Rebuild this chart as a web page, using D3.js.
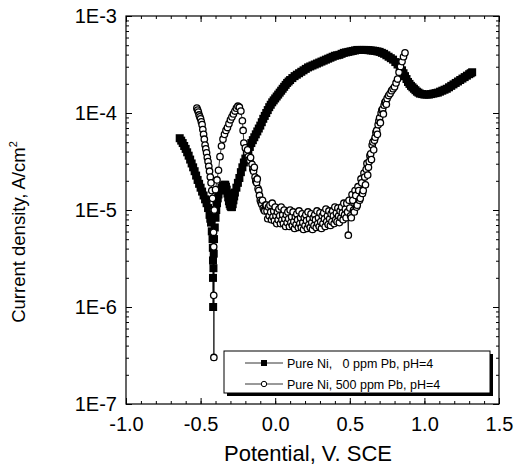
<!DOCTYPE html>
<html><head><meta charset="utf-8">
<script src="https://cdn.jsdelivr.net/npm/d3@7"></script>
<style>body{margin:0;background:#fff}svg{display:block}text{font-family:"Liberation Sans",Arial,sans-serif;fill:#000}</style>
</head><body><svg id="c" width="515" height="465"></svg>
<script>
// Series 1: Pure Ni, 0 ppm Pb, pH=4  (potential V vs SCE, log10 of current density A/cm2)
const potential0 = [-0.64,-0.63,-0.62,-0.61,-0.60,-0.59,-0.58,-0.57,-0.56,-0.55,-0.54,-0.53,-0.52,-0.51,-0.50,-0.49,-0.48,-0.47,-0.46,-0.45,-0.44,-0.435,-0.43,-0.425,-0.42,-0.418,-0.417,-0.417,-0.416,
 -0.414,-0.412,-0.41,-0.405,-0.40,-0.395,-0.39,-0.385,-0.38,-0.37,-0.36,-0.35,-0.34,-0.335,-0.33,-0.325,-0.32,-0.315,-0.31,-0.305,-0.30,-0.295,-0.29,-0.285,-0.28,-0.275,-0.27,-0.26,-0.25,-0.24,
 -0.23,-0.22,-0.21,-0.20,-0.19,-0.18,-0.17,-0.16,-0.15,-0.14,-0.13,-0.12,-0.11,-0.10,-0.09,-0.08,-0.07,-0.06,-0.05,-0.04,-0.03,-0.02,-0.01,0.00,0.01,0.02,0.03,0.04,0.05,0.06,0.07,0.08,0.09,0.10,0.115,0.13,0.145,0.16,0.175,0.19,0.205,0.22,0.235,0.25,0.265,0.28,0.295,0.31,0.325,0.34,0.355,0.37,0.385,0.40,0.415,0.43,0.445,0.46,0.475,0.49,0.505,0.52,0.535,0.55,0.565,0.58,0.595,0.61,0.625,0.64,0.655,0.67,0.685,0.70,0.715,0.73,0.745,0.76,0.775,0.79,0.805,0.82,0.835,0.85,0.86,0.87,0.88,0.89,0.90,0.91,0.92,0.93,0.94,0.95,0.96,0.97,0.985,1.00,1.015,1.03,1.045,1.06,1.075,1.09,1.105,1.12,1.135,1.15,1.165,1.18,1.195,1.21,1.225,1.24,1.255,1.27,1.285,1.30,1.31,1.32];
const logCurrent0 = [-4.26,-4.285,-4.31,-4.34,-4.37,-4.405,-4.44,-4.48,-4.52,-4.56,-4.60,-4.645,-4.69,-4.73,-4.77,-4.81,-4.85,-4.89,-4.93,-4.98,-5.05,-5.09,-5.13,-5.22,-5.30,-5.39,-5.52,-5.70,-6.00,
 -5.60,-5.45,-5.30,-5.18,-5.08,-5.00,-4.93,-4.88,-4.84,-4.80,-4.77,-4.75,-4.74,-4.74,-4.76,-4.79,-4.83,-4.87,-4.91,-4.94,-4.96,-4.97,-4.97,-4.94,-4.90,-4.86,-4.82,-4.77,-4.72,-4.67,
 -4.61,-4.56,-4.51,-4.47,-4.43,-4.39,-4.35,-4.31,-4.28,-4.25,-4.22,-4.19,-4.16,-4.13,-4.095,-4.06,-4.03,-4.00,-3.97,-3.94,-3.915,-3.89,-3.87,-3.85,-3.83,-3.81,-3.79,-3.77,-3.75,-3.73,-3.71,-3.69,-3.675,-3.66,-3.64,-3.62,-3.605,-3.59,-3.575,-3.56,-3.545,-3.53,-3.52,-3.51,-3.50,-3.49,-3.48,-3.47,-3.46,-3.45,-3.44,-3.43,-3.42,-3.41,-3.405,-3.40,-3.39,-3.38,-3.375,-3.37,-3.365,-3.36,-3.355,-3.35,-3.35,-3.35,-3.35,-3.35,-3.352,-3.355,-3.357,-3.36,-3.365,-3.37,-3.38,-3.39,-3.405,-3.42,-3.435,-3.45,-3.475,-3.50,-3.53,-3.56,-3.59,-3.62,-3.65,-3.68,-3.70,-3.72,-3.735,-3.75,-3.765,-3.78,-3.79,-3.80,-3.805,-3.81,-3.81,-3.81,-3.805,-3.80,-3.795,-3.79,-3.78,-3.77,-3.76,-3.75,-3.735,-3.72,-3.705,-3.69,-3.675,-3.66,-3.645,-3.63,-3.615,-3.60,-3.59,-3.58];

// Series 2: Pure Ni, 500 ppm Pb, pH=4
const potential500 = [-0.525,-0.52,-0.515,-0.51,-0.505,-0.50,-0.495,-0.49,-0.485,-0.48,-0.475,-0.47,-0.465,-0.46,-0.455,-0.45,-0.445,-0.44,-0.435,-0.43,-0.425,-0.42,-0.415,-0.413,-0.412,-0.412,-0.411,
 -0.408,-0.40,-0.39,-0.38,-0.37,-0.36,-0.35,-0.34,-0.33,-0.32,-0.31,-0.30,-0.29,-0.28,-0.27,-0.26,-0.25,-0.24,-0.23,-0.22,-0.215,-0.21,-0.20,
 -0.19,-0.185,-0.18,-0.175,-0.17,-0.165,-0.155,-0.15,-0.145,-0.14,-0.135,-0.13,-0.125,-0.12,-0.115,-0.11,-0.105,-0.10,-0.095,-0.09,-0.085,-0.08,-0.075,-0.07,-0.065,
 -0.060,-0.055,-0.050,-0.045,-0.040,-0.035,-0.030,-0.025,-0.020,-0.015,-0.010,-0.005,0.000,0.005,0.010,0.015,0.020,0.025,0.030,0.035,0.040,0.045,0.050,0.055,0.060,0.065,0.070,0.075,0.080,0.085,0.090,0.095,0.100,0.105,0.110,0.115,0.120,0.125,0.130,0.135,0.140,0.145,0.150,0.155,0.160,0.165,0.170,0.175,0.180,0.185,0.190,0.195,0.200,0.205,0.210,0.215,0.220,0.225,0.230,0.235,0.240,0.245,0.250,0.255,0.260,0.265,0.270,0.275,0.280,0.285,0.290,0.295,0.300,0.305,0.310,0.315,0.320,0.325,0.330,0.335,0.340,0.345,0.350,0.355,0.360,0.365,0.370,0.375,0.380,0.385,0.390,0.395,0.400,0.405,0.410,0.415,0.420,0.425,0.430,0.435,0.440,0.445,0.450,0.455,0.460,0.465,0.470,0.475,0.480,0.485,
 0.490,0.495,0.500,0.505,0.510,0.515,0.520,0.525,0.530,0.535,0.540,0.545,0.550,0.555,0.560,0.565,0.570,0.575,0.580,0.585,0.590,0.595,0.600,0.605,0.610,0.615,0.620,0.625,0.630,0.635,0.640,0.645,0.650,0.655,0.660,0.665,0.670,0.675,0.680,0.685,0.690,0.695,0.700,0.705,0.710,0.715,0.720,0.725,0.730,0.735,0.740,0.745,0.750,0.76,0.77,0.78,0.79,0.80,0.81,0.82,0.83,0.84,0.85,0.86,0.87];
const logCurrent500 = [-3.95,-3.97,-3.99,-4.02,-4.04,-4.06,-4.09,-4.12,-4.17,-4.22,-4.27,-4.33,-4.37,-4.41,-4.46,-4.50,-4.55,-4.60,-4.66,-4.72,-4.80,-4.88,-5.00,-5.23,-5.38,-5.88,-6.52,
 -5.00,-4.79,-4.69,-4.59,-4.45,-4.34,-4.27,-4.22,-4.18,-4.15,-4.11,-4.07,-4.04,-4.01,-3.98,-3.95,-3.93,-3.94,-3.98,-4.08,-4.18,-4.31,-4.36,
 -4.41,-4.38,-4.45,-4.48,-4.49,-4.46,-4.53,-4.58,-4.60,-4.56,-4.66,-4.70,-4.72,-4.68,-4.78,-4.80,-4.85,-4.90,-4.92,-4.94,-4.90,-4.98,-5.00,-5.01,-4.95,
 -4.95,-5.01,-5.09,-4.97,-5.06,-4.95,-5.02,-5.10,-4.93,-5.07,-5.01,-5.11,-4.97,-5.06,-5.14,-5.02,-5.10,-4.99,-5.06,-5.14,-4.97,-5.10,-5.05,-5.14,-5.00,-5.09,-5.17,-5.05,-5.13,-5.02,-5.09,-5.17,-5.00,-5.13,-5.07,-5.16,-5.02,-5.12,-5.19,-5.07,-5.15,-5.04,-5.10,-5.18,-5.01,-5.14,-5.08,-5.18,-5.04,-5.13,-5.20,-5.08,-5.16,-5.05,-5.11,-5.19,-5.02,-5.15,-5.09,-5.18,-5.04,-5.13,-5.20,-5.08,-5.16,-5.05,-5.10,-5.18,-5.01,-5.14,-5.08,-5.17,-5.03,-5.12,-5.19,-5.06,-5.14,-5.03,-5.09,-5.17,-4.99,-5.12,-5.06,-5.15,-5.01,-5.09,-5.16,-5.04,-5.12,-5.01,-5.06,-5.14,-4.97,-5.10,-5.03,-5.12,-4.98,-5.06,-5.13,-5.01,-5.08,-4.97,-5.03,-5.10,-4.93,-5.05,-4.99,-5.08,-4.93,-5.02,
 -5.26,-4.90,-4.98,-5.06,-5.08,-4.84,-4.90,-5.00,-5.02,-4.80,-4.85,-4.97,-4.95,-4.76,-4.80,-4.90,-4.88,-4.68,-4.72,-4.83,-4.80,-4.62,-4.66,-4.74,-4.58,-4.52,-4.64,-4.56,-4.50,-4.44,-4.42,-4.48,-4.33,-4.30,-4.38,-4.28,-4.25,-4.20,-4.18,-4.22,-4.12,-4.08,-4.05,-4.10,-4.00,-3.97,-3.96,-4.01,-3.92,-3.89,-3.88,-3.91,-3.85,-3.82,-3.80,-3.77,-3.75,-3.73,-3.69,-3.65,-3.58,-3.52,-3.47,-3.42,-3.38];

const xTicks = [-1.0,-0.5,0.0,0.5,1.0,1.5];
const xTickLabels = ["-1.0","-0.5","0.0","0.5","1.0","1.5"];
const yTicks = [1e-7,1e-6,1e-5,1e-4,1e-3];
const yTickLabels = ["1E-7","1E-6","1E-5","1E-4","1E-3"];
const seriesNames = ["Pure Ni,   0 ppm Pb, pH=4","Pure Ni, 500 ppm Pb, pH=4"];

const svg = d3.select("#c");
const L = 126, R = 499, T = 16, B = 404;
const x = d3.scaleLinear().domain([-1.0,1.5]).range([L,R]);
const y = d3.scaleLog().domain([1e-7,1e-3]).range([B,T]);

const s0 = potential0.map((v,i)=>({x:v,y:Math.pow(10,logCurrent0[i])}));
const s500 = potential500.map((v,i)=>({x:v,y:Math.pow(10,logCurrent500[i])}));

const xMinor = d3.range(-1.0,1.5001,0.1).map(v=>+v.toFixed(2));
const yMinor = [];
for (let e=-7;e<-3;e++) for (let m=2;m<=9;m++) yMinor.push(m*Math.pow(10,e));

const g = svg.append("g");
const axB = d3.axisBottom(x).tickValues(xTicks).tickFormat((d,i)=>xTickLabels[i]).tickSizeInner(-6).tickSizeOuter(0).tickPadding(13);
const axT = d3.axisTop(x).tickValues(xTicks).tickFormat("").tickSizeInner(-6).tickSizeOuter(0);
const axL = d3.axisLeft(y).tickValues(yTicks).tickFormat((d,i)=>yTickLabels[i]).tickSizeInner(-6).tickSizeOuter(0).tickPadding(9);
const axR = d3.axisRight(y).tickValues(yTicks).tickFormat("").tickSizeInner(-6).tickSizeOuter(0);
const mB = d3.axisBottom(x).tickValues(xMinor).tickFormat("").tickSizeInner(-3).tickSizeOuter(0);
const mT = d3.axisTop(x).tickValues(xMinor).tickFormat("").tickSizeInner(-3).tickSizeOuter(0);
const mL = d3.axisLeft(y).tickValues(yMinor).tickFormat("").tickSizeInner(-3).tickSizeOuter(0);
const mR = d3.axisRight(y).tickValues(yMinor).tickFormat("").tickSizeInner(-3).tickSizeOuter(0);

function place(ax, tr){ const a=g.append("g").attr("transform",tr).call(ax); a.select(".domain").remove(); a.selectAll("line").attr("stroke","#000").attr("stroke-width",1); a.selectAll("text").style("font-size","20px").attr("fill","#000"); return a; }
place(mB,`translate(0,${B})`); place(mT,`translate(0,${T})`); place(mL,`translate(${L},0)`); place(mR,`translate(${R},0)`);
place(axB,`translate(0,${B})`); place(axT,`translate(0,${T})`); place(axL,`translate(${L},0)`); place(axR,`translate(${R},0)`);

svg.append("clipPath").attr("id","clip").append("rect").attr("x",L).attr("y",T).attr("width",R-L).attr("height",B-T);
const d = svg.append("g").attr("clip-path","url(#clip)");
const line = d3.line().x(p=>x(p.x)).y(p=>y(p.y));
d.append("path").datum(s0).attr("d",line).attr("fill","none").attr("stroke","#000").attr("stroke-width",1);
d.selectAll("rect.sq").data(s0).join("rect").attr("class","sq")
  .attr("x",p=>x(p.x)-4).attr("y",p=>y(p.y)-4).attr("width",8).attr("height",8).attr("fill","#000");
d.append("path").datum(s500).attr("d",line).attr("fill","none").attr("stroke","#000").attr("stroke-width",0.8);
d.selectAll("circle.ci").data(s500).join("circle").attr("class","ci")
  .attr("cx",p=>x(p.x)).attr("cy",p=>y(p.y)).attr("r",3.2).attr("fill","#fff").attr("stroke","#000").attr("stroke-width",1.3);

svg.append("rect").attr("x",L).attr("y",T).attr("width",R-L).attr("height",B-T).attr("fill","none").attr("stroke","#000").attr("stroke-width",1.2);

const lg = svg.append("g");
lg.append("rect").attr("x",227).attr("y",354).attr("width",266).attr("height",42).attr("fill","#000");
lg.append("rect").attr("x",224).attr("y",351).attr("width",266).attr("height",42).attr("fill","#fff").attr("stroke","#000").attr("stroke-width",1);
const rows=[363,384];
seriesNames.forEach((name,i)=>{
  lg.append("line").attr("x1",245).attr("x2",283).attr("y1",rows[i]).attr("y2",rows[i]).attr("stroke","#000").attr("stroke-width",0.8);
  if(i===0) lg.append("rect").attr("x",261).attr("y",rows[i]-3).attr("width",6).attr("height",6).attr("fill","#000");
  else lg.append("circle").attr("cx",264).attr("cy",rows[i]).attr("r",2.7).attr("fill","#fff").attr("stroke","#000").attr("stroke-width",1);
  lg.append("text").attr("x",287).attr("y",rows[i]+4.5).style("font-size","12.5px").attr("xml:space","preserve").style("white-space","pre").text(name);
});

svg.append("text").attr("x",308).attr("y",461).attr("text-anchor","middle").style("font-size","22px").text("Potential, V. SCE");
const yt = svg.append("text").attr("transform","translate(25,232) rotate(-90)").attr("text-anchor","middle").style("font-size","18.5px");
yt.append("tspan").text("Current density, A/cm");
yt.append("tspan").attr("dy",-8).style("font-size","11px").text("2");
</script></body></html>
